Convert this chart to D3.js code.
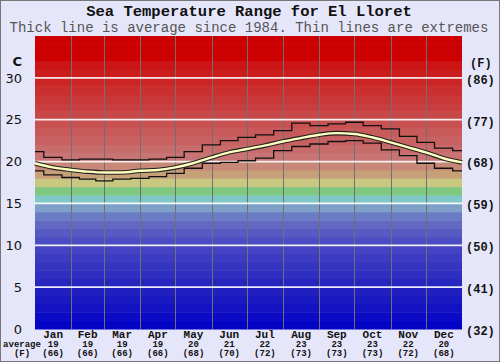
<!DOCTYPE html>
<html><head><meta charset="utf-8">
<script src="https://cdn.jsdelivr.net/npm/d3@7"></script>
<style>
body{margin:0;background:#fff}
svg{display:block}
text{font-family:"Liberation Mono","DejaVu Sans Mono",monospace}
</style></head>
<body><svg id="chart" width="500" height="362"></svg>
<script>
// day of year for each reading
var days = [0, 15, 31, 45, 59, 74, 90, 105, 120, 135, 151, 166, 181, 196, 212, 227, 243, 258, 273, 288, 304, 319, 334, 349, 365];
var avgTemp = [19.8, 19.3, 19.0, 18.8, 18.7, 18.7, 18.9, 19.0, 19.3, 19.8, 20.5, 21.1, 21.5, 21.9, 22.4, 22.8, 23.2, 23.4, 23.3, 22.9, 22.3, 21.7, 21.1, 20.4, 19.9];
var maxTemp = [21.2, 20.5, 20.2, 20.3, 20.3, 20.2, 20.2, 20.3, 20.5, 21.2, 22.0, 22.5, 22.9, 23.2, 23.7, 24.6, 24.3, 24.5, 24.7, 24.3, 23.9, 23.0, 22.3, 21.6, 21.3];
var minTemp = [18.9, 18.4, 18.1, 17.9, 17.7, 17.9, 18.0, 18.2, 18.6, 19.2, 19.8, 19.9, 20.1, 20.4, 21.3, 21.8, 22.1, 22.4, 22.5, 22.2, 21.4, 20.7, 19.8, 19.2, 18.9];

var months = ['Jan', 'Feb', 'Mar', 'Apr', 'May', 'Jun', 'Jul', 'Aug', 'Sep', 'Oct', 'Nov', 'Dec'];
var monthDays = [31, 28, 31, 30, 31, 30, 31, 31, 30, 31, 30, 31];
var monthAvgC = [19, 19, 19, 19, 20, 21, 22, 23, 23, 23, 22, 20];
var monthAvgF = [66, 66, 66, 66, 68, 70, 72, 73, 73, 73, 72, 68];
var cTicks = [0, 5, 10, 15, 20, 25, 30];

var svg = d3.select('#chart');
var L = 35, R = 462, T = 36, B = 329;

var x = d3.scaleLinear().domain([0, 365]).range([L, R]);
var y = d3.scaleLinear().domain([0, 35]).range([B, T]);

// background colour bands, one per degree
var bandColor = d3.scaleLinear()
  .domain([0, 5, 10, 12, 13.5, 14.5, 15.5, 16.5, 17.5, 18.5, 19.5, 20.5, 25.5, 31.5, 32.5])
  .range(['#0000c8', '#2424c0', '#4646c4', '#5e60c2', '#6c7cc4', '#7ea0c8', '#80c8c8', '#80c880', '#c8c880', '#c8a078', '#c88878', '#c87474', '#c84848', '#cc1414', '#cc0000'])
  .clamp(true);

svg.append('rect').attr('x', 0.5).attr('y', 0.5).attr('width', 499).attr('height', 361)
  .attr('fill', '#e6e6fa').attr('stroke', '#777');

svg.append('g').selectAll('rect').data(d3.range(0, 35))
  .join('rect')
  .attr('x', L).attr('width', R - L)
  .attr('y', function(d) { return y(d + 1); })
  .attr('height', function(d) { return y(d) - y(d + 1) + 0.5; })
  .attr('fill', function(d) { return bandColor(d + 0.5); });

// month boundaries
var cum = Array.from(d3.cumsum(monthDays));
var starts = [0].concat(cum.slice(0, 11));
svg.append('g').selectAll('line').data(cum.slice(0, 11))
  .join('line')
  .attr('x1', function(d) { return Math.round(x(d)) + 0.5; })
  .attr('x2', function(d) { return Math.round(x(d)) + 0.5; })
  .attr('y1', T).attr('y2', B)
  .attr('stroke', '#707070').attr('stroke-width', 1);

// horizontal grid
svg.append('g').selectAll('line').data(cTicks.filter(function(d) { return d > 0; }))
  .join('line')
  .attr('x1', L).attr('x2', R)
  .attr('y1', function(d) { return y(d); }).attr('y2', function(d) { return y(d); })
  .attr('stroke', '#fff').attr('stroke-opacity', 0.9).attr('stroke-width', 1.8);

var stepLine = function(vals) {
  return d3.line().curve(d3.curveStep)
    .x(function(d, i) { return x(days[i]); })
    .y(function(d) { return y(d); })(vals);
};
var smoothLine = d3.line().curve(d3.curveMonotoneX)
  .x(function(d, i) { return x(days[i]); })
  .y(function(d) { return y(d); });

svg.append('path').attr('d', stepLine(maxTemp)).attr('fill', 'none').attr('stroke', '#111').attr('stroke-width', 1.3);
svg.append('path').attr('d', stepLine(minTemp)).attr('fill', 'none').attr('stroke', '#111').attr('stroke-width', 1.3);
svg.append('path').attr('d', smoothLine(avgTemp)).attr('fill', 'none').attr('stroke', '#222').attr('stroke-width', 4.6);
svg.append('path').attr('d', smoothLine(avgTemp)).attr('fill', 'none').attr('stroke', '#ffffc0').attr('stroke-width', 2.4);

// titles
svg.append('text').attr('x', 249).attr('y', 15.5).attr('text-anchor', 'middle')
  .attr('font-size', 15.5).attr('font-weight', 'bold').attr('fill', '#111')
  .text('Sea Temperature Range for El Lloret');
svg.append('text').attr('x', 249).attr('y', 32).attr('text-anchor', 'middle')
  .attr('font-size', 14).attr('fill', '#555')
  .text('Thick line is average since 1984. Thin lines are extremes');

// left axis (C)
svg.append('g').selectAll('text').data(cTicks).join('text')
  .attr('x', 22).attr('y', function(d) { return y(d); }).attr('dy', '0.36em')
  .attr('text-anchor', 'end').attr('font-size', 13).attr('fill', '#111')
  .style('font-family', '"DejaVu Sans", sans-serif')
  .text(function(d) { return d; });
svg.append('text').attr('x', 22).attr('y', 61).attr('dy', '0.36em').attr('text-anchor', 'end')
  .attr('font-size', 13).attr('font-weight', 'bold').style('font-family', '"DejaVu Sans", sans-serif')
  .attr('fill', '#111').text('C');

// right axis (F)
svg.append('g').selectAll('text').data(cTicks).join('text')
  .attr('x', 466).attr('y', function(d) { return y(d) + 1.5; }).attr('dy', '0.36em')
  .attr('font-size', 12).attr('font-weight', 'bold').attr('fill', '#111')
  .text(function(d) { return '(' + Math.round(d * 9 / 5 + 32) + ')'; });
svg.append('text').attr('x', 470).attr('y', 63).attr('dy', '0.36em')
  .attr('font-size', 12).attr('font-weight', 'bold').attr('fill', '#111').text('(F)');

// month labels
var mg = svg.append('g').selectAll('g').data(months).join('g')
  .attr('transform', function(d, i) { return 'translate(' + x(starts[i] + monthDays[i] / 2) + ',0)'; })
  .attr('text-anchor', 'middle').attr('fill', '#111').attr('font-weight', 'bold');
mg.append('text').attr('y', 337.5).attr('font-size', 11).text(function(d) { return d; });
mg.append('text').attr('y', 346.5).attr('font-size', 9).text(function(d, i) { return monthAvgC[i]; });
mg.append('text').attr('y', 356).attr('font-size', 9).text(function(d, i) { return '(' + monthAvgF[i] + ')'; });

svg.append('text').attr('x', 22).attr('y', 346.5).attr('text-anchor', 'middle')
  .attr('font-size', 9).attr('font-weight', 'bold').attr('fill', '#111').text('average');
svg.append('text').attr('x', 22).attr('y', 356).attr('text-anchor', 'middle')
  .attr('font-size', 9).attr('font-weight', 'bold').attr('fill', '#111').text('(F)');
</script>
</body></html>
